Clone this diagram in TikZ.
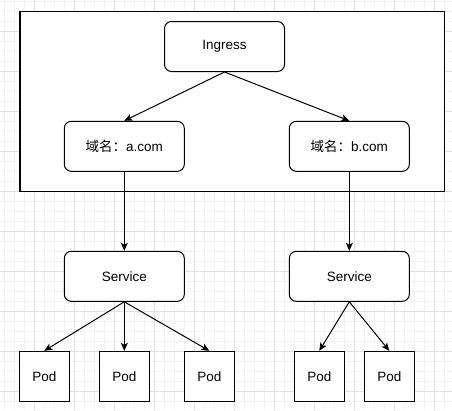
\documentclass[tikz,border=0pt]{standalone}
\usepackage{fontspec}
\setmainfont{Liberation Sans}
\newfontfamily\cjkfont{Noto Sans CJK SC}
\usetikzlibrary{arrows.meta,positioning}
\definecolor{gridminor}{HTML}{F3F3F3}
\definecolor{gridmajor}{HTML}{E0E0E0}
\tikzset{
    %Define standard arrow tip
    >={Stealth[length=8pt,width=7pt,inset=2pt]},
    %Define style for boxes
    roundbox/.style={
             rectangle, rounded corners=7pt,
             draw=black, fill=white, line width=1pt,
             minimum width=120pt, minimum height=50pt,
             inner sep=0pt,
             font=\fontsize{13.5}{16}\selectfont},
    podbox/.style={
             rectangle,
             draw=black, fill=white, line width=1pt,
             minimum width=50pt, minimum height=50pt,
             inner sep=0pt,
             font=\fontsize{13.5}{16}\selectfont},
    framebox/.style={
             draw=black, fill=white, line width=1.3pt},
    % Define arrow style
    linkarrow/.style={
            ->,
            line width=1pt}
}
\begin{document}
\begin{tikzpicture}[x=1pt, y=-1pt]
 \useasboundingbox (0,0) rectangle (452,410);
 % background grid
 \foreach \gx in {4.3,14.3,...,452} \draw[gridminor, line width=0.8pt] (\gx,0) -- (\gx,410);
 \foreach \gy in {1.7,11.7,...,410} \draw[gridminor, line width=0.8pt] (0,\gy) -- (452,\gy);
 \foreach \gx in {34.3,74.3,...,452} \draw[gridmajor, line width=0.8pt] (\gx,0) -- (\gx,410);
 \foreach \gy in {31.7,71.7,...,410} \draw[gridmajor, line width=0.8pt] (0,\gy) -- (452,\gy);
 % ingress frame
 \draw[framebox] (20,11.3) rectangle (444.7,191.3);
 \node[roundbox] (ingress) at (224.5,46.5) {Ingress};
 \node[roundbox] (doma) at (124.3,146.3) {{\cjkfont 域名：}a.com};
 \node[roundbox] (domb) at (349.3,146.3) {{\cjkfont 域名：}b.com};
 \node[roundbox] (svca) at (124.3,276.3) {Service};
 \node[roundbox] (svcb) at (349.3,276.3) {Service};
 \node[podbox] (poda1) at (44.3,376.3) {Pod};
 \node[podbox] (poda2) at (124.3,376.3) {Pod};
 \node[podbox] (poda3) at (209.3,376.3) {Pod};
 \node[podbox] (podb1) at (319.3,376.3) {Pod};
 \node[podbox] (podb2) at (389.3,376.3) {Pod};
 \draw[linkarrow] (ingress.south) -- (doma.north);
 \draw[linkarrow] (ingress.south) -- (domb.north);
 \draw[linkarrow] (doma.south) -- (svca.north);
 \draw[linkarrow] (domb.south) -- (svcb.north);
 \draw[linkarrow] (svca.south) -- (poda1.north);
 \draw[linkarrow] (svca.south) -- (poda2.north);
 \draw[linkarrow] (svca.south) -- (poda3.north);
 \draw[linkarrow] (svcb.south) -- (podb1.north);
 \draw[linkarrow] (svcb.south) -- (podb2.north);
\end{tikzpicture}
\end{document}
